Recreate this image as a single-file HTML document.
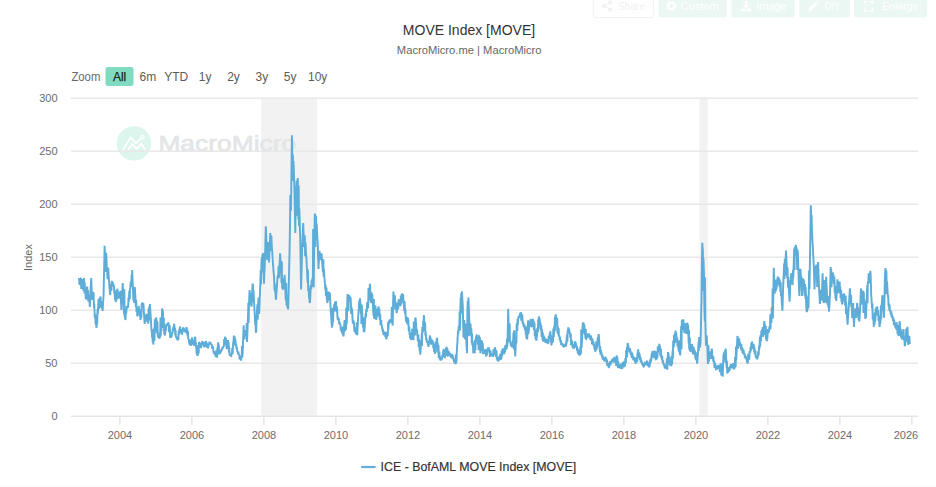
<!DOCTYPE html>
<html lang="en">
<head>
<meta charset="utf-8">
<title>MOVE Index [MOVE]</title>
<style>
html,body{margin:0;padding:0;background:#fff;}
body{width:936px;height:487px;overflow:hidden;font-family:'Liberation Sans', Arial, Helvetica, sans-serif;}
</style>
</head>
<body>
<svg width="936" height="487" viewBox="0 0 936 487" style="display:block;font-family:'Liberation Sans', Arial, Helvetica, sans-serif">
<rect width="936" height="487" fill="#ffffff"/>
<rect x="0" y="485.6" width="936" height="1.4" fill="#fafafa"/>
<g font-size="10.8" fill="#ffffff">
<rect x="593.2" y="-4.5" width="60.5" height="22" rx="3" fill="#ffffff" stroke="#f1f1f1"/>
<g fill="#f1f1f1" stroke="#f1f1f1" stroke-width="1.1"><circle cx="610.2" cy="2.6" r="1.5"/><circle cx="604" cy="6" r="1.5"/><circle cx="610.2" cy="9.6" r="1.5"/><path d="M610.2 2.6 L604 6 L610.2 9.6" fill="none"/></g>
<text x="617.7" y="9.7" fill="#f1f1f1" textLength="27.5" lengthAdjust="spacingAndGlyphs">Share</text>
<rect x="658.5" y="-5" width="68.3" height="22.6" rx="3" fill="#ebf7f3"/>
<g><circle cx="671.2" cy="6" r="3.1" fill="none" stroke="#fff" stroke-width="2.4"/><circle cx="671.2" cy="6" r="4.6" fill="none" stroke="#fff" stroke-width="1.6" stroke-dasharray="1.8 1.81"/></g>
<text x="680.6" y="9.7" textLength="38.1" lengthAdjust="spacingAndGlyphs">Custom</text>
<rect x="731.6" y="-5" width="62.9" height="22.6" rx="3" fill="#ebf7f3"/>
<path d="M744.9 1 h2.4 v4 h2.6 l-3.8 3.9 l-3.8 -3.9 h2.6 z M741 8.6 h3 l2.1 1.7 l2.1 -1.7 h3 v2.6 h-10.2 z" fill="#fff"/>
<text x="756.2" y="9.7" textLength="30.2" lengthAdjust="spacingAndGlyphs">Image</text>
<rect x="799.3" y="-5" width="50.4" height="22.6" rx="3" fill="#ebf7f3"/>
<path d="M808.4 11.2 l0.7 -3 l6.3 -6.3 l2.3 2.3 l-6.3 6.3 z M816.2 1.1 l1 -1 l2.3 2.3 l-1 1 z" fill="#fff"/>
<text x="824.7" y="9.7" textLength="15.3" lengthAdjust="spacingAndGlyphs">DIY</text>
<rect x="854" y="-5" width="73.2" height="22.6" rx="3" fill="#ebf7f3"/>
<path d="M864.4 4.3 v-2.9 h2.9 M869.7 1.4 h2.9 v2.9 M872.6 7.8 v2.9 h-2.9 M867.3 10.7 h-2.9 v-2.9" fill="none" stroke="#fff" stroke-width="1.5"/>
<text x="882" y="9.7" textLength="36.5" lengthAdjust="spacingAndGlyphs">Enlarge</text>
</g>
<rect x="261.2" y="98.15" width="56.0" height="318.0" fill="#f2f2f2"/>
<rect x="699.4" y="98.15" width="8.300000000000068" height="318.0" fill="#f2f2f2"/>
<g>
<circle cx="133.9" cy="143.4" r="17.2" fill="#dcf5ed"/>
<path d="M122.9 149.8 L130.9 137.5 L135.6 143.2 L141 138.6" fill="none" stroke="#fff" stroke-width="1.8" stroke-linejoin="miter"/>
<path d="M128.1 149.8 L132.1 144.1 L137 148.8 L141.3 143.6 L145.1 149.8" fill="none" stroke="#fff" stroke-width="1.8" stroke-linejoin="miter"/>
<circle cx="142.4" cy="137.2" r="1.7" fill="#dcf5ed" stroke="#fff" stroke-width="1.3"/>
<text x="158.4" y="150.9" font-size="22" fill="#e3e5e7" stroke="#e3e5e7" stroke-width="0.7" stroke-linejoin="round" textLength="137.8" lengthAdjust="spacingAndGlyphs">MacroMicro</text>
</g>
<line x1="71.0" x2="918.2" y1="363.15" y2="363.15" stroke="#e8e8e8" stroke-width="1.5"/>
<line x1="71.0" x2="918.2" y1="310.15" y2="310.15" stroke="#e8e8e8" stroke-width="1.5"/>
<line x1="71.0" x2="918.2" y1="257.15" y2="257.15" stroke="#e8e8e8" stroke-width="1.5"/>
<line x1="71.0" x2="918.2" y1="204.15" y2="204.15" stroke="#e8e8e8" stroke-width="1.5"/>
<line x1="71.0" x2="918.2" y1="151.15" y2="151.15" stroke="#e8e8e8" stroke-width="1.5"/>
<line x1="71.0" x2="918.2" y1="98.15" y2="98.15" stroke="#e8e8e8" stroke-width="1.5"/>
<line x1="71.0" x2="918.2" y1="416.15" y2="416.15" stroke="#e5e5e5" stroke-width="1.5"/>
<line x1="119.9" x2="119.9" y1="416.15" y2="424.65" stroke="#e7e7e7" stroke-width="1.5"/>
<line x1="191.9" x2="191.9" y1="416.15" y2="424.65" stroke="#e7e7e7" stroke-width="1.5"/>
<line x1="263.9" x2="263.9" y1="416.15" y2="424.65" stroke="#e7e7e7" stroke-width="1.5"/>
<line x1="335.9" x2="335.9" y1="416.15" y2="424.65" stroke="#e7e7e7" stroke-width="1.5"/>
<line x1="407.9" x2="407.9" y1="416.15" y2="424.65" stroke="#e7e7e7" stroke-width="1.5"/>
<line x1="479.9" x2="479.9" y1="416.15" y2="424.65" stroke="#e7e7e7" stroke-width="1.5"/>
<line x1="551.9" x2="551.9" y1="416.15" y2="424.65" stroke="#e7e7e7" stroke-width="1.5"/>
<line x1="623.9" x2="623.9" y1="416.15" y2="424.65" stroke="#e7e7e7" stroke-width="1.5"/>
<line x1="695.9" x2="695.9" y1="416.15" y2="424.65" stroke="#e7e7e7" stroke-width="1.5"/>
<line x1="767.9" x2="767.9" y1="416.15" y2="424.65" stroke="#e7e7e7" stroke-width="1.5"/>
<line x1="839.9" x2="839.9" y1="416.15" y2="424.65" stroke="#e7e7e7" stroke-width="1.5"/>
<line x1="911.9" x2="911.9" y1="416.15" y2="424.65" stroke="#e7e7e7" stroke-width="1.5"/>
<path d="M78.9 278.0 L79.2 279.8 L79.4 284.0 L79.7 284.6 L80.0 279.5 L80.2 282.5 L80.5 278.2 L80.8 278.0 L81.0 283.9 L81.3 289.0 L81.6 284.9 L81.9 287.9 L82.2 281.9 L82.5 285.5 L82.8 279.0 L83.0 284.7 L83.3 290.7 L83.6 286.6 L83.8 281.8 L84.1 278.0 L84.4 293.2 L84.7 282.6 L85.0 291.2 L85.3 290.7 L85.5 294.1 L85.8 298.5 L86.1 299.1 L86.4 290.0 L86.7 295.2 L87.0 287.3 L87.3 286.8 L87.5 293.5 L87.8 300.0 L88.1 290.4 L88.4 301.7 L88.6 294.7 L88.9 299.9 L89.2 296.5 L89.5 301.4 L89.8 307.0 L90.1 301.9 L90.4 295.2 L90.6 290.1 L90.9 283.3 L91.2 278.0 L91.5 285.2 L91.7 291.2 L92.0 298.5 L92.3 299.9 L92.6 291.9 L92.9 299.2 L93.2 292.6 L93.5 292.6 L93.8 300.7 L94.0 308.0 L94.3 304.1 L94.7 316.5 L95.0 318.0 L95.3 314.3 L95.6 324.1 L96.0 319.9 L96.3 327.0 L96.6 327.7 L96.9 316.3 L97.2 324.6 L97.5 309.2 L97.8 314.0 L98.1 308.4 L98.4 301.4 L98.7 299.1 L99.0 308.9 L99.3 308.0 L99.6 298.1 L100.0 302.4 L100.3 296.5 L100.6 297.5 L101.0 307.3 L101.3 302.0 L101.6 302.0 L101.9 308.7 L102.3 305.6 L102.6 311.0 L102.9 306.1 L103.3 299.4 L103.6 294.6 L103.9 278.8 L104.3 261.4 L104.6 245.8 L104.9 252.5 L105.3 258.0 L105.6 265.0 L105.9 272.0 L106.2 252.8 L106.5 259.5 L106.8 266.4 L107.2 271.8 L107.5 279.0 L107.8 278.5 L108.2 267.5 L108.5 273.0 L108.8 277.9 L109.1 281.5 L109.4 286.6 L109.7 289.7 L110.0 294.6 L110.3 294.2 L110.6 284.0 L110.9 290.9 L111.1 284.3 L111.4 290.7 L111.7 282.5 L112.0 281.0 L112.3 284.2 L112.6 282.1 L112.9 284.4 L113.1 283.5 L113.4 286.4 L113.7 284.6 L114.0 286.8 L114.3 293.7 L114.6 289.7 L115.0 299.9 L115.3 294.4 L115.6 300.7 L115.9 302.0 L116.2 293.7 L116.5 300.6 L116.7 290.3 L117.0 299.0 L117.3 288.7 L117.6 289.9 L117.9 295.3 L118.2 292.1 L118.5 298.0 L118.8 298.5 L119.1 292.1 L119.4 296.3 L119.8 292.9 L120.1 298.3 L120.4 290.7 L120.7 296.9 L121.1 304.0 L121.4 310.0 L121.7 302.7 L122.1 296.8 L122.4 289.6 L122.7 283.0 L123.0 290.4 L123.4 296.6 L123.7 304.0 L124.0 314.1 L124.3 289.3 L124.7 317.5 L125.0 310.3 L125.3 320.0 L125.6 318.7 L125.9 310.4 L126.3 313.1 L126.6 308.0 L126.9 306.2 L127.2 308.3 L127.6 305.7 L127.9 307.7 L128.2 306.0 L128.5 297.2 L128.8 301.7 L129.2 292.5 L129.5 290.7 L129.8 299.3 L130.1 288.6 L130.3 288.9 L130.6 281.9 L130.9 286.8 L131.2 285.0 L131.6 275.0 L131.9 280.3 L132.2 270.0 L132.5 277.5 L132.8 285.5 L133.1 292.8 L133.4 300.6 L133.7 299.0 L134.0 289.7 L134.2 303.0 L134.5 288.2 L134.8 287.0 L135.1 292.2 L135.4 296.7 L135.6 302.3 L135.9 307.0 L136.2 299.7 L136.5 312.1 L136.9 308.6 L137.2 315.7 L137.5 316.0 L137.8 309.9 L138.2 313.5 L138.5 307.9 L138.8 306.0 L139.1 311.7 L139.4 309.3 L139.8 316.4 L140.1 309.4 L140.4 320.0 L140.7 317.6 L141.0 311.0 L141.4 317.7 L141.7 304.6 L142.0 303.0 L142.3 303.3 L142.7 302.7 L143.0 307.5 L143.3 303.0 L143.6 306.7 L143.9 312.2 L144.1 314.9 L144.4 320.4 L144.7 324.0 L145.0 315.4 L145.3 322.1 L145.6 317.5 L145.9 321.8 L146.2 314.7 L146.5 314.0 L146.8 320.5 L147.1 315.8 L147.4 320.0 L147.7 315.9 L148.0 323.0 L148.3 323.0 L148.6 308.4 L148.9 320.6 L149.3 306.3 L149.6 319.2 L149.9 304.0 L150.2 309.1 L150.6 315.2 L150.9 319.8 L151.2 325.5 L151.5 331.8 L151.8 329.8 L152.1 337.7 L152.4 332.5 L152.7 342.5 L153.0 329.2 L153.3 344.6 L153.6 339.4 L153.9 332.6 L154.2 327.7 L154.5 340.8 L154.8 319.2 L155.1 332.2 L155.3 320.4 L155.6 322.9 L155.9 318.4 L156.2 317.5 L156.5 325.8 L156.8 320.6 L157.2 333.7 L157.5 321.8 L157.8 335.6 L158.1 337.0 L158.4 335.3 L158.7 338.1 L159.0 336.7 L159.3 338.3 L159.6 338.0 L159.9 332.5 L160.2 337.2 L160.5 317.6 L160.8 335.6 L161.1 324.9 L161.4 331.0 L161.8 320.4 L162.1 308.5 L162.4 310.0 L162.6 325.4 L162.9 310.2 L163.2 318.7 L163.5 328.0 L163.8 318.0 L164.2 334.0 L164.5 323.6 L164.8 335.6 L165.1 334.2 L165.4 329.9 L165.8 331.3 L166.1 326.0 L166.4 325.5 L166.7 325.8 L167.0 324.2 L167.3 325.7 L167.7 322.7 L168.0 324.8 L168.3 322.7 L168.6 323.0 L168.9 332.1 L169.2 326.6 L169.5 332.1 L169.8 325.2 L170.1 337.0 L170.4 338.0 L170.7 334.5 L171.0 337.7 L171.3 333.9 L171.6 337.1 L171.9 332.4 L172.2 334.5 L172.5 332.0 L172.8 328.3 L173.1 330.3 L173.4 326.6 L173.7 329.6 L174.0 324.7 L174.3 324.0 L174.6 331.1 L174.9 327.7 L175.3 335.4 L175.6 330.0 L175.9 336.7 L176.2 337.5 L176.5 336.6 L176.8 339.5 L177.2 337.7 L177.5 340.3 L177.8 339.2 L178.1 340.0 L178.4 338.9 L178.7 330.9 L179.0 334.7 L179.3 329.0 L179.6 332.3 L179.9 326.6 L180.2 327.5 L180.5 332.8 L180.8 329.4 L181.1 333.1 L181.4 329.0 L181.7 334.5 L182.0 334.1 L182.3 330.2 L182.7 332.5 L183.0 328.1 L183.3 327.7 L183.6 328.5 L183.9 328.3 L184.2 330.8 L184.4 329.1 L184.7 331.1 L185.0 328.8 L185.3 332.3 L185.6 332.0 L185.9 329.2 L186.1 331.3 L186.4 327.4 L186.7 327.7 L187.0 334.0 L187.3 329.3 L187.6 336.2 L187.9 331.4 L188.2 338.3 L188.5 339.0 L188.8 339.0 L189.1 343.4 L189.4 340.3 L189.7 345.0 L189.9 340.6 L190.2 345.5 L190.5 339.5 L190.8 345.8 L191.1 344.9 L191.4 340.0 L191.7 344.7 L192.0 338.1 L192.3 337.8 L192.6 341.2 L192.9 340.1 L193.2 344.0 L193.5 342.3 L193.8 345.7 L194.1 344.2 L194.4 340.1 L194.7 344.4 L195.0 336.7 L195.3 337.6 L195.7 346.5 L196.0 342.7 L196.3 348.0 L196.6 353.7 L196.9 349.6 L197.2 354.5 L197.5 355.9 L197.8 345.2 L198.1 354.7 L198.4 345.9 L198.7 353.4 L199.0 342.3 L199.3 342.4 L199.6 346.1 L199.9 342.9 L200.2 347.4 L200.5 345.6 L200.8 348.0 L201.1 347.5 L201.4 343.2 L201.8 345.6 L202.1 342.0 L202.4 341.2 L202.7 344.1 L203.0 342.0 L203.4 345.0 L203.7 343.3 L204.0 346.8 L204.3 346.7 L204.6 344.1 L204.9 345.1 L205.2 342.0 L205.5 344.5 L205.8 341.2 L206.1 341.9 L206.4 347.1 L206.7 342.3 L207.0 347.5 L207.3 345.4 L207.6 348.0 L207.9 347.7 L208.2 345.2 L208.5 347.1 L208.8 343.5 L209.1 344.6 L209.4 342.3 L209.7 342.0 L210.0 344.4 L210.3 342.0 L210.6 344.3 L210.9 343.4 L211.2 344.9 L211.5 344.6 L211.8 344.5 L212.1 348.8 L212.4 346.7 L212.7 348.8 L213.0 346.4 L213.3 350.2 L213.6 352.6 L213.9 351.0 L214.2 354.1 L214.4 351.3 L214.7 354.7 L215.0 353.1 L215.3 354.7 L215.6 356.5 L215.9 355.0 L216.2 357.2 L216.5 349.7 L216.8 357.3 L217.1 357.0 L217.4 347.5 L217.6 355.2 L217.9 344.6 L218.2 342.3 L218.5 348.0 L218.8 344.5 L219.0 350.6 L219.3 348.9 L219.6 353.6 L219.9 353.7 L220.2 352.1 L220.5 352.7 L220.7 350.9 L221.0 352.1 L221.3 349.9 L221.6 350.2 L221.9 350.3 L222.2 347.4 L222.5 349.1 L222.8 347.0 L223.0 348.0 L223.3 346.2 L223.6 346.6 L223.9 345.7 L224.2 339.1 L224.6 343.6 L224.9 338.2 L225.2 336.7 L225.5 343.9 L225.8 337.9 L226.0 345.4 L226.3 339.7 L226.6 349.0 L226.9 348.1 L227.2 342.7 L227.4 347.4 L227.7 341.0 L228.0 340.0 L228.3 348.2 L228.6 342.1 L228.9 352.5 L229.2 346.5 L229.5 353.6 L229.8 355.6 L230.1 353.3 L230.4 356.0 L230.7 354.6 L231.0 356.6 L231.3 356.3 L231.6 353.5 L231.9 354.2 L232.3 347.9 L232.6 354.2 L232.9 349.0 L233.2 342.0 L233.4 344.3 L233.7 338.0 L234.0 335.5 L234.3 345.4 L234.6 336.3 L235.0 341.2 L235.3 338.9 L235.6 342.3 L235.9 346.4 L236.2 344.2 L236.5 348.9 L236.8 346.5 L237.1 350.7 L237.4 351.3 L237.7 351.3 L238.0 354.2 L238.4 351.7 L238.7 355.0 L239.0 354.7 L239.3 355.0 L239.6 359.5 L239.9 356.4 L240.2 359.2 L240.5 358.4 L240.8 360.3 L241.1 360.0 L241.4 355.9 L241.7 358.6 L242.0 346.0 L242.3 357.5 L242.6 353.6 L242.9 346.4 L243.1 339.7 L243.4 332.1 L243.7 325.2 L244.0 339.4 L244.3 330.0 L244.6 334.5 L244.9 334.2 L245.2 330.1 L245.6 335.6 L245.9 331.7 L246.2 332.8 L246.4 339.4 L246.7 322.9 L247.0 341.9 L247.3 335.5 L247.6 327.3 L247.8 321.7 L248.1 314.0 L248.4 302.6 L248.6 322.9 L248.9 308.6 L249.2 298.5 L249.6 290.0 L249.9 299.6 L250.2 292.7 L250.5 301.2 L250.8 305.3 L251.2 300.1 L251.5 306.8 L251.8 301.7 L252.1 294.5 L252.3 290.0 L252.6 283.7 L252.9 284.5 L253.2 302.1 L253.5 290.0 L253.8 296.0 L254.1 302.9 L254.4 308.6 L254.7 313.7 L255.0 320.4 L255.3 325.2 L255.6 314.6 L255.8 331.8 L256.1 332.6 L256.4 324.7 L256.7 318.6 L257.0 310.5 L257.4 304.4 L257.7 319.7 L258.0 312.9 L258.2 304.6 L258.5 297.5 L258.9 305.9 L259.2 314.0 L259.5 306.5 L259.7 299.7 L260.0 292.0 L260.4 280.7 L260.7 269.8 L261.0 284.8 L261.4 266.0 L261.7 257.9 L261.9 266.1 L262.2 258.7 L262.5 254.6 L262.8 272.4 L263.1 253.0 L263.4 262.8 L263.7 273.6 L264.0 283.7 L264.3 274.5 L264.7 267.2 L265.0 258.0 L265.3 247.0 L265.5 237.3 L265.8 226.3 L266.1 232.5 L266.4 239.9 L266.6 245.9 L266.9 253.5 L267.2 260.0 L267.5 253.8 L267.8 248.3 L268.1 242.0 L268.4 248.2 L268.7 255.9 L269.0 262.5 L269.3 254.5 L269.6 248.5 L270.0 239.9 L270.3 233.0 L270.6 247.0 L270.9 235.3 L271.1 250.9 L271.4 236.1 L271.7 244.4 L272.0 249.5 L272.3 252.9 L272.6 258.0 L272.9 262.7 L273.2 266.8 L273.6 271.8 L273.9 275.4 L274.2 280.5 L274.5 289.8 L274.8 283.4 L275.1 292.1 L275.4 290.3 L275.7 297.7 L276.0 299.7 L276.3 294.4 L276.6 290.8 L277.0 284.9 L277.3 281.0 L277.6 276.0 L277.9 275.7 L278.2 278.0 L278.6 266.1 L278.9 278.3 L279.2 272.3 L279.5 265.1 L279.8 259.9 L280.1 253.4 L280.4 257.7 L280.6 264.4 L280.9 268.6 L281.2 273.8 L281.5 283.0 L281.8 261.6 L282.2 288.2 L282.5 280.5 L282.8 289.6 L283.1 288.0 L283.4 281.5 L283.7 287.9 L284.0 278.2 L284.3 289.0 L284.6 274.9 L284.9 280.6 L285.1 287.2 L285.4 291.9 L285.7 298.6 L286.0 300.6 L286.2 282.9 L286.5 305.4 L286.8 303.0 L287.1 300.1 L287.4 307.5 L287.6 294.6 L287.9 309.0 L288.2 308.8 L288.5 295.9 L288.8 284.1 L289.1 271.5 L289.5 254.4 L289.8 237.6 L290.1 216.7 L290.3 195.0 L290.6 202.5 L291.0 210.8 L291.3 185.9 L291.6 160.2 L291.9 135.2 L292.2 152.9 L292.6 170.0 L292.9 154.6 L293.2 180.9 L293.5 161.0 L293.8 169.9 L294.1 179.6 L294.4 188.0 L294.7 202.3 L295.0 218.2 L295.3 233.0 L295.6 208.8 L296.0 186.0 L296.3 216.1 L296.6 180.8 L296.9 190.5 L297.2 198.8 L297.5 180.4 L297.8 178.0 L298.1 199.3 L298.4 219.8 L298.7 185.6 L299.0 226.3 L299.3 208.5 L299.6 217.8 L299.9 228.3 L300.2 237.6 L300.5 254.6 L300.8 272.4 L301.1 289.6 L301.4 277.4 L301.7 266.2 L302.0 253.4 L302.3 245.5 L302.6 239.0 L302.9 230.3 L303.2 223.0 L303.5 231.2 L303.9 238.3 L304.2 246.6 L304.5 246.0 L304.8 235.3 L305.1 256.3 L305.4 242.0 L305.7 245.8 L305.9 251.8 L306.2 255.1 L306.5 260.2 L306.8 266.6 L307.1 270.7 L307.3 277.6 L307.6 282.8 L307.9 269.4 L308.2 290.9 L308.5 285.2 L308.8 291.8 L309.1 298.6 L309.4 287.9 L309.6 301.8 L309.9 303.0 L310.2 298.2 L310.4 294.1 L310.7 288.8 L311.0 285.0 L311.3 289.0 L311.6 280.4 L312.0 283.5 L312.3 278.9 L312.6 278.3 L312.9 284.9 L313.1 228.9 L313.4 285.9 L313.7 287.3 L314.0 261.9 L314.3 237.6 L314.6 226.2 L314.8 214.2 L315.1 214.0 L315.4 247.1 L315.7 216.0 L316.0 217.6 L316.3 228.7 L316.7 223.6 L317.0 231.0 L317.3 236.2 L317.5 239.5 L317.8 244.4 L318.1 257.0 L318.5 269.0 L318.8 262.3 L319.1 257.8 L319.4 251.0 L319.7 252.2 L319.9 259.3 L320.2 255.6 L320.5 260.0 L320.8 258.8 L321.1 254.4 L321.3 259.2 L321.6 253.4 L321.9 257.7 L322.2 262.7 L322.5 266.5 L322.8 271.5 L323.1 271.8 L323.4 259.3 L323.6 276.5 L323.9 269.0 L324.2 272.6 L324.4 277.5 L324.7 280.6 L325.0 285.0 L325.3 290.0 L325.6 284.6 L325.9 295.9 L326.2 294.0 L326.5 287.5 L326.8 299.7 L327.0 296.2 L327.3 303.0 L327.6 301.4 L328.0 292.7 L328.3 291.6 L328.6 295.7 L328.9 291.9 L329.3 300.4 L329.6 292.7 L329.9 294.0 L330.2 299.4 L330.4 303.2 L330.7 309.7 L331.0 314.0 L331.3 317.9 L331.6 323.3 L331.9 327.8 L332.2 322.6 L332.5 325.7 L332.7 308.1 L333.0 322.1 L333.3 314.0 L333.6 307.4 L333.9 310.0 L334.1 305.4 L334.4 304.0 L334.7 311.5 L335.0 301.8 L335.4 304.0 L335.7 301.5 L336.0 301.8 L336.3 308.8 L336.6 306.1 L336.8 312.3 L337.1 307.5 L337.4 316.5 L337.7 319.6 L338.0 316.9 L338.3 320.4 L338.6 318.0 L338.9 321.0 L339.2 324.3 L339.5 321.9 L339.9 324.7 L340.2 323.8 L340.5 325.5 L340.8 330.4 L341.1 327.0 L341.4 331.5 L341.7 327.4 L342.0 333.2 L342.3 332.3 L342.6 332.8 L342.9 335.1 L343.2 326.4 L343.5 336.4 L343.8 332.9 L344.1 328.0 L344.3 324.2 L344.6 320.0 L344.9 321.2 L345.1 331.3 L345.4 324.3 L345.7 330.0 L346.0 328.5 L346.3 307.8 L346.6 324.6 L346.9 321.0 L347.2 307.2 L347.5 294.0 L347.8 307.4 L348.1 294.5 L348.4 311.2 L348.7 298.4 L349.0 295.0 L349.3 299.8 L349.6 296.0 L349.9 297.1 L350.2 300.7 L350.6 297.2 L350.9 303.0 L351.2 314.0 L351.5 306.9 L351.9 313.8 L352.2 309.3 L352.5 318.8 L352.8 323.4 L353.1 320.3 L353.5 323.8 L353.8 320.9 L354.1 325.5 L354.4 331.8 L354.7 327.2 L355.0 330.3 L355.3 328.6 L355.6 333.2 L355.9 333.4 L356.2 333.1 L356.5 334.5 L356.7 322.2 L357.0 334.9 L357.3 334.6 L357.6 328.1 L357.9 322.8 L358.2 316.5 L358.5 311.8 L358.8 308.9 L359.0 304.0 L359.3 300.7 L359.6 305.3 L360.0 298.4 L360.3 303.3 L360.6 309.4 L360.9 314.0 L361.2 307.4 L361.4 324.1 L361.7 304.6 L362.0 309.7 L362.3 314.5 L362.6 318.5 L362.8 323.7 L363.1 327.8 L363.4 317.4 L363.7 331.8 L364.0 327.0 L364.3 332.3 L364.6 328.7 L364.9 324.2 L365.1 321.2 L365.4 316.5 L365.7 313.3 L365.9 317.5 L366.2 309.9 L366.5 309.7 L366.8 312.0 L367.1 302.5 L367.3 308.8 L367.6 305.2 L367.9 301.9 L368.2 308.3 L368.5 288.1 L368.8 300.7 L369.1 296.8 L369.4 292.0 L369.6 288.7 L369.9 283.7 L370.2 287.9 L370.4 293.5 L370.7 297.6 L371.0 303.0 L371.3 301.7 L371.6 292.2 L371.9 302.5 L372.2 294.0 L372.5 298.3 L372.8 303.1 L373.0 307.2 L373.3 312.0 L373.6 315.8 L373.9 298.9 L374.1 317.6 L374.4 318.8 L374.7 313.5 L375.0 310.0 L375.3 305.2 L375.6 309.8 L375.9 315.7 L376.2 320.0 L376.5 309.1 L376.8 317.8 L377.1 312.0 L377.4 312.0 L377.7 315.1 L377.9 307.9 L378.2 316.1 L378.5 306.3 L378.8 308.4 L379.1 316.1 L379.3 308.8 L379.6 318.8 L379.9 319.8 L380.2 313.8 L380.5 325.5 L380.8 321.0 L381.1 320.1 L381.5 325.2 L381.8 325.0 L382.1 327.8 L382.4 330.5 L382.7 328.5 L382.9 332.8 L383.2 329.7 L383.5 334.6 L383.8 334.9 L384.1 332.7 L384.5 333.6 L384.8 332.3 L385.1 332.2 L385.4 337.3 L385.8 334.9 L386.1 338.8 L386.4 339.0 L386.7 335.4 L386.9 336.9 L387.2 331.8 L387.5 332.3 L387.8 335.9 L388.1 322.0 L388.4 329.5 L388.7 323.3 L389.0 320.6 L389.2 323.9 L389.5 320.2 L389.8 320.0 L390.1 321.9 L390.4 319.3 L390.6 322.3 L390.9 322.0 L391.2 320.2 L391.5 322.2 L391.8 306.8 L392.1 318.8 L392.4 323.8 L392.7 325.5 L393.0 307.8 L393.4 291.6 L393.7 296.4 L394.0 300.0 L394.3 305.2 L394.6 305.5 L394.9 295.2 L395.1 309.5 L395.4 301.8 L395.7 303.0 L396.0 309.6 L396.3 306.9 L396.6 313.0 L396.9 312.0 L397.1 302.7 L397.4 309.0 L397.7 306.0 L398.0 302.8 L398.2 309.4 L398.5 300.4 L398.8 299.4 L399.1 302.0 L399.4 301.5 L399.6 304.8 L399.9 302.6 L400.2 306.0 L400.5 305.5 L400.8 295.7 L401.2 304.5 L401.5 295.3 L401.8 293.7 L402.1 294.5 L402.4 293.8 L402.6 300.3 L402.9 294.9 L403.2 295.2 L403.4 303.0 L403.7 300.4 L404.0 306.0 L404.3 311.0 L404.6 301.2 L405.0 313.6 L405.3 308.5 L405.6 315.0 L405.9 321.2 L406.2 316.6 L406.5 321.5 L406.8 323.0 L407.1 317.0 L407.4 324.3 L407.6 317.9 L407.9 317.5 L408.2 325.2 L408.4 319.9 L408.7 330.1 L409.0 331.0 L409.3 326.9 L409.6 335.3 L409.8 332.9 L410.1 338.5 L410.4 335.5 L410.7 332.5 L411.0 339.2 L411.3 340.0 L411.6 333.5 L411.9 338.9 L412.1 330.2 L412.4 328.8 L412.7 334.4 L412.9 330.6 L413.2 338.9 L413.5 340.0 L413.8 321.5 L414.1 335.9 L414.4 324.8 L414.7 328.8 L415.0 335.4 L415.3 318.6 L415.6 317.5 L415.9 322.2 L416.1 325.3 L416.4 329.7 L416.7 333.3 L417.0 329.7 L417.3 335.9 L417.5 333.9 L417.8 341.1 L418.1 337.8 L418.4 334.8 L418.8 346.9 L419.1 339.2 L419.4 344.6 L419.7 351.1 L420.0 347.3 L420.3 354.7 L420.6 350.4 L420.9 344.1 L421.2 340.0 L421.5 342.5 L421.8 333.4 L422.0 346.1 L422.3 326.9 L422.6 331.0 L422.9 332.5 L423.2 320.7 L423.6 322.9 L423.9 315.0 L424.2 320.1 L424.5 326.2 L424.8 331.0 L425.1 322.2 L425.4 335.5 L425.7 331.7 L426.0 337.8 L426.3 340.3 L426.6 338.7 L427.0 342.9 L427.3 342.3 L427.6 341.2 L427.9 345.3 L428.1 343.4 L428.4 346.8 L428.7 345.7 L429.0 340.7 L429.4 341.8 L429.7 336.8 L430.0 335.5 L430.3 341.4 L430.6 337.4 L430.9 342.9 L431.2 344.6 L431.5 341.1 L431.9 343.7 L432.2 340.3 L432.5 340.0 L432.8 344.5 L433.1 342.2 L433.3 348.2 L433.6 344.4 L433.9 349.0 L434.2 352.0 L434.5 350.3 L434.9 353.3 L435.2 353.6 L435.5 341.4 L435.8 352.3 L436.2 341.5 L436.5 345.0 L436.8 337.8 L437.1 338.6 L437.4 346.3 L437.6 343.2 L437.9 346.8 L438.2 353.2 L438.5 344.9 L438.8 358.0 L439.1 354.7 L439.4 351.8 L439.7 359.5 L440.0 356.5 L440.3 359.8 L440.6 360.4 L440.9 359.2 L441.2 360.3 L441.6 357.6 L441.9 359.8 L442.2 355.4 L442.5 357.0 L442.8 356.1 L443.1 351.3 L443.3 354.5 L443.6 349.0 L443.9 350.6 L444.1 355.2 L444.4 352.3 L444.7 358.0 L445.0 357.5 L445.3 352.3 L445.6 355.2 L445.9 348.0 L446.2 355.9 L446.5 346.8 L446.8 348.4 L447.1 352.6 L447.4 348.4 L447.7 355.9 L448.0 356.2 L448.3 350.8 L448.6 354.3 L448.9 352.2 L449.2 352.5 L449.5 355.0 L449.8 352.9 L450.2 356.3 L450.5 353.6 L450.8 357.0 L451.1 357.1 L451.4 354.8 L451.6 356.2 L451.9 354.4 L452.2 354.7 L452.5 359.1 L452.8 355.4 L453.2 358.8 L453.5 357.8 L453.8 360.4 L454.1 362.3 L454.4 360.8 L454.7 363.2 L455.0 362.4 L455.3 363.8 L455.6 363.6 L455.9 354.3 L456.2 363.1 L456.5 360.4 L456.9 349.8 L457.2 344.9 L457.5 340.7 L457.8 334.8 L458.1 330.6 L458.4 333.7 L458.7 326.3 L459.0 326.2 L459.3 328.5 L459.6 311.4 L459.9 330.6 L460.2 320.1 L460.4 308.0 L460.7 297.5 L461.0 309.2 L461.3 293.0 L461.6 313.6 L461.9 291.3 L462.2 295.9 L462.5 301.8 L462.8 306.2 L463.1 321.5 L463.5 337.6 L463.9 329.3 L464.2 320.1 L464.5 329.6 L464.9 339.3 L465.2 332.0 L465.6 323.6 L466.0 331.9 L466.3 341.1 L466.6 347.5 L467.0 353.3 L467.4 311.4 L467.7 300.7 L468.1 336.3 L468.4 297.5 L468.8 305.8 L469.1 314.9 L469.5 325.6 L469.8 335.8 L470.1 329.3 L470.5 323.6 L470.8 330.4 L471.2 327.8 L471.5 332.4 L471.8 343.2 L472.1 333.4 L472.3 345.6 L472.6 341.1 L473.0 346.7 L473.3 353.3 L473.6 351.5 L473.9 343.2 L474.2 346.3 L474.4 350.7 L474.7 353.3 L475.0 339.9 L475.4 350.2 L475.7 339.3 L476.0 336.6 L476.2 340.9 L476.5 335.1 L476.8 335.0 L477.1 340.9 L477.5 336.5 L477.8 344.6 L478.1 343.0 L478.4 336.5 L478.6 350.2 L478.9 335.8 L479.2 335.5 L479.6 348.2 L479.9 337.6 L480.1 345.2 L480.4 353.3 L480.7 349.7 L481.0 344.0 L481.3 340.0 L481.6 351.2 L481.9 340.8 L482.2 345.0 L482.5 349.3 L482.8 343.1 L483.1 353.5 L483.4 354.0 L483.7 351.2 L484.0 353.0 L484.3 350.1 L484.6 352.2 L484.9 349.6 L485.2 349.9 L485.5 354.2 L485.8 351.2 L486.1 356.4 L486.4 355.2 L486.6 351.3 L486.9 355.1 L487.2 349.6 L487.5 348.5 L487.8 351.4 L488.2 347.3 L488.5 351.1 L488.8 347.3 L489.1 349.1 L489.4 353.3 L489.6 352.1 L489.9 356.4 L490.2 356.7 L490.5 350.3 L490.7 355.9 L491.0 353.1 L491.3 353.0 L491.6 355.5 L491.9 353.9 L492.3 356.0 L492.6 354.1 L492.9 356.4 L493.2 356.3 L493.4 349.3 L493.7 355.2 L494.0 353.0 L494.3 349.2 L494.6 354.7 L494.8 348.2 L495.1 347.3 L495.4 355.0 L495.6 349.2 L495.9 356.6 L496.2 356.4 L496.5 350.5 L496.8 359.1 L497.1 356.9 L497.4 359.7 L497.7 361.0 L497.9 358.7 L498.2 361.2 L498.5 360.9 L498.8 358.2 L499.1 359.3 L499.3 356.3 L499.6 356.4 L499.9 358.1 L500.2 353.7 L500.5 359.5 L500.8 359.7 L501.1 354.3 L501.4 358.9 L501.6 350.8 L501.9 351.8 L502.2 356.2 L502.4 349.4 L502.7 350.2 L503.0 348.4 L503.3 349.4 L503.6 352.0 L503.9 348.3 L504.2 354.0 L504.5 352.8 L504.8 347.2 L505.0 352.2 L505.3 345.0 L505.6 345.6 L505.9 349.6 L506.1 345.1 L506.4 349.6 L506.7 348.3 L506.9 338.7 L507.2 346.6 L507.5 342.8 L507.9 325.7 L508.2 308.9 L508.5 319.8 L508.8 329.7 L509.1 340.5 L509.4 342.0 L509.7 323.4 L509.9 342.5 L510.2 341.3 L510.5 342.8 L510.8 345.4 L511.1 344.1 L511.5 346.9 L511.8 344.4 L512.1 347.3 L512.4 346.1 L512.7 340.4 L512.9 345.2 L513.2 340.5 L513.5 332.5 L513.8 349.5 L514.0 331.8 L514.3 330.4 L514.6 339.4 L514.9 347.6 L515.2 356.4 L515.5 350.9 L515.8 343.8 L516.1 338.3 L516.4 343.5 L516.7 323.3 L517.0 327.0 L517.3 331.1 L517.6 319.1 L517.9 324.6 L518.2 318.0 L518.5 316.8 L518.9 318.2 L519.2 315.4 L519.5 315.7 L519.8 316.5 L520.1 313.2 L520.4 314.4 L520.7 312.3 L521.0 313.0 L521.2 320.6 L521.5 315.0 L521.8 316.8 L522.1 321.2 L522.3 314.2 L522.6 323.0 L522.9 323.6 L523.2 321.8 L523.5 326.6 L523.7 324.3 L524.0 325.8 L524.3 327.5 L524.6 324.6 L524.9 330.1 L525.2 328.1 L525.5 328.4 L525.8 334.8 L526.0 332.7 L526.3 336.0 L526.6 338.8 L526.9 326.2 L527.2 339.4 L527.5 333.6 L527.8 326.5 L528.1 320.2 L528.4 334.2 L528.7 321.2 L528.9 331.5 L529.2 321.4 L529.5 327.0 L529.8 325.9 L530.0 321.7 L530.3 322.6 L530.6 319.0 L530.9 320.0 L531.2 323.3 L531.4 321.9 L531.7 326.6 L532.0 327.0 L532.3 321.3 L532.5 325.8 L532.8 319.7 L533.1 319.0 L533.4 323.2 L533.7 320.9 L533.9 330.1 L534.2 327.0 L534.5 322.4 L534.8 336.1 L535.0 331.3 L535.3 336.0 L535.6 339.1 L535.9 329.5 L536.2 340.0 L536.5 340.5 L536.8 333.3 L537.0 336.9 L537.3 327.7 L537.6 331.5 L537.9 332.2 L538.2 319.4 L538.4 328.9 L538.7 316.8 L539.0 317.0 L539.3 324.3 L539.6 318.0 L539.9 322.5 L540.2 325.6 L540.5 322.4 L540.7 330.6 L541.0 328.1 L541.3 325.3 L541.6 337.1 L541.9 329.3 L542.2 332.0 L542.5 340.0 L542.8 332.6 L543.1 340.8 L543.4 341.5 L543.7 335.2 L544.0 341.6 L544.2 337.3 L544.5 337.0 L544.8 341.1 L545.0 338.3 L545.3 341.9 L545.6 342.6 L545.9 340.2 L546.2 342.6 L546.5 339.6 L546.8 339.2 L547.1 342.9 L547.3 340.5 L547.6 343.1 L547.9 343.8 L548.2 341.2 L548.5 343.1 L548.7 336.1 L549.0 338.0 L549.3 338.5 L549.6 333.9 L549.9 335.7 L550.2 331.3 L550.5 332.6 L550.8 342.0 L551.0 335.2 L551.3 344.9 L551.6 344.7 L551.8 339.5 L552.1 343.0 L552.4 339.2 L552.7 336.0 L553.0 342.3 L553.3 328.6 L553.6 333.6 L553.9 337.2 L554.2 326.0 L554.4 331.9 L554.7 325.7 L555.0 316.5 L555.2 330.4 L555.5 316.5 L555.8 314.4 L556.1 319.8 L556.3 318.1 L556.6 324.0 L556.9 324.5 L557.2 317.8 L557.5 333.3 L557.8 326.6 L558.1 331.3 L558.4 334.8 L558.7 328.3 L558.9 336.8 L559.2 335.8 L559.5 335.5 L559.8 339.9 L560.0 337.0 L560.3 340.4 L560.6 342.6 L560.9 340.0 L561.2 344.6 L561.5 344.9 L561.8 343.7 L562.0 345.3 L562.3 343.5 L562.6 343.8 L562.9 346.1 L563.2 344.6 L563.4 346.9 L563.7 347.0 L564.0 344.4 L564.3 346.9 L564.6 344.6 L564.9 344.9 L565.2 346.2 L565.5 343.6 L565.7 346.3 L566.0 346.0 L566.3 340.6 L566.5 344.5 L566.8 334.7 L567.1 337.0 L567.4 341.8 L567.7 330.1 L567.9 332.5 L568.2 328.0 L568.5 327.7 L568.8 331.5 L569.1 328.8 L569.4 331.3 L569.7 334.0 L570.0 332.9 L570.2 337.5 L570.5 337.0 L570.8 333.6 L571.0 345.3 L571.3 339.7 L571.6 341.5 L571.9 344.9 L572.2 340.7 L572.5 347.4 L572.8 347.0 L573.1 345.5 L573.3 348.6 L573.6 345.3 L573.9 348.3 L574.2 347.9 L574.5 343.7 L574.7 347.1 L575.0 341.5 L575.3 341.9 L575.6 345.2 L575.9 342.8 L576.2 346.0 L576.5 347.5 L576.8 345.6 L577.0 350.7 L577.3 348.3 L577.6 348.6 L577.8 353.5 L578.1 349.6 L578.4 352.8 L578.7 354.6 L579.0 350.7 L579.2 355.2 L579.5 355.0 L579.8 353.9 L580.1 355.3 L580.4 346.6 L580.7 354.0 L581.0 352.3 L581.2 329.4 L581.5 348.0 L581.8 343.8 L582.1 338.2 L582.3 333.3 L582.6 326.9 L582.9 322.3 L583.2 333.3 L583.5 322.6 L583.8 332.6 L584.1 324.5 L584.4 325.6 L584.7 334.5 L584.9 328.6 L585.2 335.8 L585.5 338.3 L585.8 329.0 L586.0 339.5 L586.3 339.2 L586.6 336.1 L586.9 337.5 L587.2 334.5 L587.5 333.6 L587.8 337.6 L588.0 333.3 L588.3 336.4 L588.6 333.6 L588.9 334.1 L589.2 336.8 L589.4 334.7 L589.7 338.0 L590.0 338.3 L590.2 336.0 L590.5 339.9 L590.8 335.8 L591.1 336.3 L591.4 341.2 L591.7 339.9 L592.0 343.8 L592.3 343.9 L592.5 338.4 L592.8 344.8 L593.1 341.5 L593.4 342.1 L593.7 346.1 L593.9 343.7 L594.2 346.0 L594.5 349.1 L594.8 345.1 L595.1 350.8 L595.4 351.7 L595.7 348.9 L596.0 350.6 L596.2 341.3 L596.5 348.3 L596.8 349.6 L597.0 341.4 L597.3 346.8 L597.6 339.2 L597.9 337.2 L598.2 343.3 L598.5 334.4 L598.8 334.7 L599.1 339.6 L599.3 342.6 L599.6 347.9 L599.9 351.7 L600.2 346.1 L600.5 354.7 L600.7 350.3 L601.0 350.5 L601.3 353.9 L601.5 352.4 L601.8 356.2 L602.1 357.3 L602.4 354.5 L602.7 359.8 L603.0 357.0 L603.3 358.4 L603.6 359.9 L603.8 358.2 L604.1 361.0 L604.4 360.7 L604.7 359.1 L605.0 360.6 L605.2 357.3 L605.5 357.3 L605.8 360.6 L606.1 357.9 L606.4 362.2 L606.7 361.8 L607.0 359.6 L607.2 365.9 L607.5 362.6 L607.8 364.0 L608.1 365.8 L608.3 363.2 L608.6 367.8 L608.9 367.5 L609.2 363.2 L609.5 366.4 L609.8 361.9 L610.1 361.8 L610.4 365.4 L610.7 360.8 L610.9 363.3 L611.2 363.0 L611.5 361.2 L611.8 362.4 L612.0 360.0 L612.3 359.6 L612.6 361.4 L612.8 358.4 L613.1 362.1 L613.4 361.8 L613.7 358.7 L614.0 360.8 L614.3 357.6 L614.6 357.3 L614.9 360.7 L615.2 357.5 L615.4 362.4 L615.7 363.0 L616.0 357.7 L616.2 365.9 L616.5 356.8 L616.8 355.5 L617.1 364.2 L617.4 357.6 L617.7 366.2 L618.0 368.0 L618.3 361.4 L618.6 367.8 L618.9 365.0 L619.2 364.6 L619.5 366.8 L619.8 365.4 L620.1 368.3 L620.4 368.0 L620.7 364.2 L621.0 367.4 L621.2 364.1 L621.5 363.4 L621.9 367.7 L622.2 369.0 L622.5 364.7 L622.8 367.8 L623.0 363.0 L623.3 362.3 L623.6 366.7 L623.8 361.4 L624.1 366.6 L624.4 366.8 L624.7 362.8 L625.0 366.0 L625.3 358.2 L625.6 360.0 L625.9 363.3 L626.2 350.1 L626.4 357.7 L626.7 351.0 L627.0 347.4 L627.2 357.3 L627.5 344.2 L627.8 343.0 L628.1 346.2 L628.3 345.2 L628.6 349.0 L628.9 349.9 L629.2 348.2 L629.5 352.1 L629.8 348.5 L630.1 348.8 L630.4 353.6 L630.7 350.8 L630.9 354.5 L631.2 355.5 L631.5 352.9 L631.8 358.0 L632.0 353.0 L632.3 353.3 L632.6 357.6 L632.9 355.5 L633.2 359.6 L633.5 360.0 L633.8 356.8 L634.0 360.4 L634.3 357.8 L634.6 357.8 L634.9 362.0 L635.2 358.7 L635.4 363.1 L635.7 363.4 L636.0 360.3 L636.3 362.7 L636.6 357.2 L636.9 360.0 L637.2 362.1 L637.5 352.9 L637.7 356.8 L638.0 349.9 L638.3 350.0 L638.5 357.7 L638.8 352.1 L639.1 355.5 L639.4 357.9 L639.7 353.6 L639.9 359.5 L640.2 360.0 L640.5 356.9 L640.8 362.3 L641.1 359.7 L641.4 361.2 L641.7 363.0 L642.0 361.7 L642.2 364.8 L642.5 364.6 L642.8 363.4 L643.0 366.3 L643.3 365.5 L643.6 366.8 L643.9 366.9 L644.2 363.7 L644.5 364.6 L644.8 362.3 L645.1 362.2 L645.3 365.1 L645.6 362.7 L645.9 364.6 L646.2 364.8 L646.5 361.8 L646.7 363.1 L647.0 361.2 L647.3 360.9 L647.6 365.7 L647.9 363.2 L648.2 364.6 L648.5 366.5 L648.8 362.4 L649.0 367.1 L649.3 366.8 L649.6 364.7 L649.8 366.1 L650.1 359.5 L650.4 362.3 L650.7 362.1 L651.0 357.7 L651.2 361.3 L651.5 356.7 L651.8 352.7 L652.1 356.8 L652.4 351.9 L652.7 351.0 L653.0 354.2 L653.2 353.2 L653.5 357.3 L653.8 357.8 L654.1 354.0 L654.3 356.0 L654.6 351.3 L654.9 351.0 L655.2 357.8 L655.5 354.1 L655.8 359.4 L656.1 360.0 L656.4 354.2 L656.7 358.9 L656.9 351.3 L657.2 353.3 L657.5 357.9 L657.8 346.4 L658.0 352.3 L658.3 348.8 L658.6 346.6 L658.9 350.7 L659.2 344.4 L659.5 344.2 L659.8 349.9 L660.0 346.3 L660.3 355.7 L660.6 352.0 L660.9 348.5 L661.2 357.6 L661.4 354.9 L661.7 357.8 L662.0 359.9 L662.2 356.1 L662.5 362.0 L662.8 362.3 L663.1 360.4 L663.4 364.8 L663.7 363.1 L664.0 364.6 L664.3 366.7 L664.5 364.2 L664.8 368.3 L665.1 368.0 L665.4 367.1 L665.7 368.7 L665.9 366.5 L666.2 366.8 L666.5 368.4 L666.8 358.4 L667.1 369.3 L667.4 369.0 L667.7 360.1 L668.0 352.0 L668.3 361.6 L668.6 353.5 L668.9 362.3 L669.2 363.3 L669.5 356.8 L669.8 365.1 L670.1 364.6 L670.4 364.3 L670.7 366.0 L670.9 360.8 L671.2 365.7 L671.5 365.2 L671.8 355.7 L672.0 364.4 L672.3 357.8 L672.6 350.7 L672.9 358.8 L673.2 340.6 L673.5 346.5 L673.8 347.2 L674.0 334.9 L674.3 343.6 L674.6 337.5 L674.9 333.7 L675.2 343.0 L675.4 331.6 L675.7 330.7 L676.0 336.2 L676.3 332.9 L676.6 341.9 L676.9 339.7 L677.2 337.5 L677.5 346.1 L677.7 341.5 L678.0 344.2 L678.3 348.6 L678.5 342.1 L678.8 351.6 L679.1 351.0 L679.4 340.3 L679.7 354.2 L679.9 344.7 L680.2 355.5 L680.5 345.6 L680.9 335.2 L681.2 326.0 L681.5 349.6 L681.8 321.3 L682.1 320.5 L682.4 330.3 L682.7 319.2 L682.9 324.9 L683.2 319.4 L683.5 321.5 L683.8 330.0 L684.0 323.7 L684.3 333.0 L684.6 332.3 L684.8 326.5 L685.1 331.2 L685.4 324.0 L685.7 323.6 L686.0 331.6 L686.3 329.5 L686.6 334.0 L687.0 328.6 L687.3 322.6 L687.6 324.8 L687.8 334.3 L688.1 324.7 L688.4 333.9 L688.7 343.1 L689.0 329.9 L689.2 349.4 L689.5 347.5 L689.8 337.6 L690.0 351.0 L690.3 347.0 L690.6 352.0 L690.9 351.2 L691.2 345.5 L691.5 350.6 L691.8 344.0 L692.1 345.0 L692.3 350.8 L692.6 347.1 L692.9 354.2 L693.2 353.7 L693.5 346.5 L693.7 351.7 L694.0 348.6 L694.3 350.0 L694.6 353.9 L694.9 350.6 L695.2 356.5 L695.5 358.5 L695.8 352.3 L696.0 360.3 L696.3 358.8 L696.6 352.6 L697.0 363.0 L697.3 363.2 L697.6 358.0 L697.9 354.1 L698.2 349.2 L698.5 342.0 L698.8 351.1 L699.1 337.0 L699.5 341.9 L699.8 347.5 L700.1 346.1 L700.5 342.3 L700.8 333.0 L701.0 324.8 L701.2 313.4 L701.5 300.5 L701.9 262.0 L702.3 242.8 L702.6 247.3 L702.9 252.0 L703.1 290.9 L703.4 258.0 L703.7 266.4 L704.0 275.0 L704.2 293.2 L704.5 311.0 L704.8 321.4 L705.0 277.6 L705.3 319.6 L705.6 333.2 L706.0 345.7 L706.4 339.8 L706.7 335.3 L707.0 341.8 L707.4 347.5 L707.6 355.6 L707.9 364.0 L708.2 362.1 L708.4 345.2 L708.7 354.2 L709.0 361.5 L709.3 351.7 L709.6 358.1 L709.9 352.0 L710.2 351.4 L710.5 356.3 L710.7 352.1 L711.0 358.8 L711.4 353.9 L711.7 348.6 L712.0 350.5 L712.3 355.4 L712.6 356.5 L712.9 355.8 L713.2 361.5 L713.4 356.8 L713.7 361.0 L714.0 363.0 L714.2 360.7 L714.5 368.0 L714.8 363.3 L715.1 363.6 L715.4 366.8 L715.6 364.8 L715.9 369.3 L716.2 370.0 L716.5 365.5 L716.8 369.5 L717.0 367.7 L717.3 367.8 L717.6 369.1 L717.8 365.5 L718.1 368.2 L718.4 365.5 L718.7 365.2 L719.0 367.7 L719.3 365.3 L719.6 369.0 L719.9 372.0 L720.2 364.8 L720.4 372.2 L720.7 363.3 L721.0 365.7 L721.3 375.5 L721.6 374.6 L721.9 363.4 L722.2 376.1 L722.4 372.1 L722.7 376.8 L723.0 367.2 L723.4 356.5 L723.7 353.8 L724.0 360.2 L724.2 351.8 L724.5 353.0 L724.8 354.8 L725.1 350.1 L725.4 362.7 L725.7 348.6 L726.0 354.6 L726.3 361.5 L726.6 367.8 L726.9 360.8 L727.2 372.6 L727.5 373.4 L727.8 370.1 L728.0 372.3 L728.3 368.7 L728.6 367.8 L728.9 371.8 L729.2 367.0 L729.4 370.3 L729.7 370.0 L730.0 366.2 L730.3 368.5 L730.6 365.0 L730.9 364.4 L731.2 368.4 L731.5 364.0 L731.7 368.1 L732.0 367.8 L732.3 364.9 L732.5 366.8 L732.8 364.0 L733.1 363.3 L733.4 368.1 L733.7 364.4 L734.0 368.9 L734.3 369.0 L734.6 366.2 L734.8 368.3 L735.1 356.8 L735.4 365.5 L735.7 367.1 L736.0 346.5 L736.2 360.3 L736.5 354.2 L736.8 347.7 L737.1 342.8 L737.4 336.0 L737.7 337.3 L738.0 348.9 L738.3 339.0 L738.6 345.2 L738.9 345.5 L739.2 338.4 L739.4 344.9 L739.7 341.8 L740.0 343.1 L740.2 346.4 L740.5 344.6 L740.8 348.6 L741.1 348.9 L741.3 343.7 L741.6 350.9 L741.9 347.5 L742.2 348.2 L742.5 352.9 L742.8 348.6 L743.1 352.0 L743.4 353.9 L743.7 350.1 L743.9 354.7 L744.2 354.2 L744.5 352.8 L744.8 357.7 L745.0 354.8 L745.3 356.5 L745.6 358.5 L745.9 356.2 L746.2 359.5 L746.5 358.8 L746.8 358.1 L747.0 362.6 L747.3 360.4 L747.6 363.3 L747.9 362.8 L748.2 353.9 L748.4 359.9 L748.7 356.5 L749.0 353.5 L749.3 359.7 L749.6 351.0 L749.9 352.0 L750.2 352.9 L750.5 347.2 L750.7 351.1 L751.0 348.6 L751.3 343.0 L751.6 347.7 L751.9 341.5 L752.2 343.3 L752.5 347.9 L752.8 348.6 L753.1 343.7 L753.3 349.3 L753.6 343.9 L753.9 346.3 L754.2 351.7 L754.5 347.2 L754.8 354.5 L755.1 353.0 L755.4 350.3 L755.7 357.2 L755.9 355.4 L756.2 357.6 L756.5 358.5 L756.8 356.6 L757.0 359.1 L757.3 358.8 L757.6 356.2 L757.8 357.7 L758.1 351.2 L758.4 354.2 L758.7 355.5 L759.0 345.9 L759.3 349.4 L759.6 346.0 L759.9 337.1 L760.2 346.5 L760.4 336.0 L760.7 335.5 L761.0 341.1 L761.3 331.1 L761.5 333.5 L761.8 330.1 L762.1 330.0 L762.4 333.7 L762.7 327.0 L762.9 335.4 L763.2 336.7 L763.5 332.7 L763.8 329.6 L764.0 324.2 L764.3 321.0 L764.6 330.4 L764.9 324.1 L765.2 334.7 L765.5 334.4 L765.8 326.0 L766.0 339.3 L766.3 332.1 L766.6 341.2 L766.9 340.2 L767.2 331.6 L767.4 339.3 L767.7 329.9 L768.0 329.8 L768.2 333.3 L768.5 329.6 L768.8 332.2 L769.1 331.1 L769.4 326.2 L769.7 328.3 L770.0 325.4 L770.3 314.9 L770.5 329.4 L770.8 314.1 L771.1 318.6 L771.4 323.0 L771.7 308.3 L772.0 307.3 L772.3 312.9 L772.6 288.5 L772.9 318.6 L773.2 302.0 L773.5 284.5 L773.8 267.8 L774.1 277.2 L774.4 284.9 L774.7 293.8 L775.0 289.8 L775.3 284.2 L775.6 280.2 L775.9 291.1 L776.2 279.5 L776.5 289.0 L776.8 287.0 L777.1 280.9 L777.3 283.4 L777.6 277.4 L777.9 276.8 L778.2 285.0 L778.5 277.3 L778.7 279.8 L779.0 279.0 L779.3 279.1 L779.5 286.8 L779.8 280.1 L780.1 284.7 L780.4 292.0 L780.7 282.1 L781.0 295.9 L781.3 293.8 L781.6 297.4 L781.8 302.8 L782.1 305.9 L782.4 310.7 L782.7 302.1 L783.0 291.8 L783.3 282.5 L783.6 276.3 L783.9 269.0 L784.2 263.2 L784.5 278.9 L784.8 258.8 L785.1 275.7 L785.4 267.6 L785.7 258.4 L786.0 250.5 L786.3 257.3 L786.6 262.6 L786.9 268.9 L787.2 278.3 L787.5 267.2 L787.8 280.2 L788.1 287.7 L788.4 277.0 L788.7 287.0 L789.0 292.1 L789.3 296.5 L789.6 301.7 L789.9 294.7 L790.2 286.8 L790.5 280.2 L790.8 282.9 L791.1 274.2 L791.4 273.4 L791.7 279.6 L792.1 279.3 L792.4 284.7 L792.7 284.1 L793.0 269.7 L793.3 277.9 L793.6 268.9 L793.9 257.7 L794.2 248.6 L794.5 270.0 L794.8 247.1 L795.1 247.4 L795.4 251.8 L795.7 245.4 L796.0 245.2 L796.3 255.6 L796.6 247.6 L796.9 257.6 L797.2 269.9 L797.5 249.8 L797.8 252.0 L798.1 261.7 L798.4 270.1 L798.7 280.2 L799.0 288.5 L799.4 296.0 L799.7 286.4 L800.0 278.1 L800.3 268.9 L800.6 270.4 L800.9 278.7 L801.2 275.7 L801.5 281.9 L801.8 289.7 L802.1 296.0 L802.4 290.1 L802.7 285.4 L803.0 279.0 L803.3 278.7 L803.6 287.0 L803.9 280.2 L804.2 285.3 L804.5 291.0 L804.8 296.0 L805.1 284.0 L805.4 298.7 L805.7 287.0 L806.0 298.1 L806.4 309.6 L806.7 311.6 L807.0 311.8 L807.3 299.8 L807.6 309.9 L807.9 300.5 L808.2 295.2 L808.5 308.1 L808.8 291.5 L809.1 270.3 L809.5 289.0 L809.8 270.2 L810.1 250.0 L810.5 227.0 L810.8 205.2 L811.1 213.3 L811.4 221.0 L811.6 215.1 L811.9 228.0 L812.3 238.0 L812.6 244.3 L813.0 249.7 L813.3 256.0 L813.6 262.2 L813.9 268.0 L814.2 278.4 L814.5 289.5 L814.9 279.5 L815.2 268.0 L815.5 265.8 L815.9 274.0 L816.2 270.0 L816.5 264.5 L816.9 275.6 L817.2 287.0 L817.5 279.0 L817.8 269.6 L818.1 262.0 L818.4 270.5 L818.7 278.1 L819.0 287.0 L819.3 292.9 L819.6 297.5 L819.9 303.9 L820.2 300.6 L820.5 289.7 L820.8 291.5 L821.1 298.3 L821.4 290.7 L821.7 300.5 L822.0 291.6 L822.3 281.8 L822.6 273.4 L822.9 283.7 L823.2 292.8 L823.5 302.8 L823.8 302.2 L824.1 280.1 L824.4 298.3 L824.7 300.8 L825.0 288.0 L825.3 302.8 L825.6 294.3 L825.9 285.2 L826.2 276.8 L826.5 285.3 L826.9 292.0 L827.2 300.5 L827.5 304.6 L827.8 295.8 L828.1 302.8 L828.4 307.3 L828.7 301.6 L829.0 311.8 L829.3 307.0 L829.6 301.0 L829.9 296.0 L830.2 286.6 L830.4 276.1 L830.7 267.0 L831.0 286.3 L831.2 268.9 L831.5 287.1 L831.8 279.4 L832.1 274.3 L832.3 277.9 L832.6 273.1 L832.9 272.6 L833.2 279.2 L833.5 274.7 L833.8 283.3 L834.1 283.9 L834.4 276.7 L834.7 292.8 L834.9 285.4 L835.2 290.7 L835.5 298.7 L835.8 287.7 L836.0 298.9 L836.3 300.9 L836.6 294.8 L836.9 290.6 L837.2 284.1 L837.5 279.4 L837.8 289.3 L838.0 284.1 L838.3 292.0 L838.6 293.0 L838.9 285.6 L839.2 289.7 L839.4 283.2 L839.7 281.6 L840.0 290.7 L840.3 287.0 L840.6 298.2 L840.9 295.2 L841.2 290.1 L841.5 302.1 L841.7 300.2 L842.0 304.3 L842.3 303.5 L842.5 295.8 L842.8 302.4 L843.1 295.2 L843.4 294.2 L843.7 300.7 L843.9 293.7 L844.2 294.0 L844.5 297.4 L844.8 295.8 L845.1 305.7 L845.4 298.6 L845.7 295.6 L846.0 314.1 L846.2 302.4 L846.5 308.8 L846.8 313.2 L847.0 316.2 L847.3 320.8 L847.6 324.6 L847.9 319.3 L848.2 315.8 L848.5 310.8 L848.8 306.5 L849.1 302.1 L849.3 297.2 L849.6 293.6 L849.9 288.4 L850.2 293.6 L850.5 299.2 L850.8 304.3 L851.1 294.9 L851.3 307.3 L851.6 303.6 L851.9 308.8 L852.2 318.3 L852.5 304.3 L852.8 316.0 L853.1 303.0 L853.4 310.4 L853.7 319.1 L854.0 326.9 L854.3 320.2 L854.6 315.4 L854.9 308.8 L855.2 310.5 L855.5 317.0 L855.7 309.3 L856.0 317.8 L856.3 316.0 L856.5 307.7 L856.8 309.7 L857.1 303.0 L857.4 304.8 L857.7 312.7 L858.0 307.2 L858.3 315.6 L858.6 320.0 L858.8 314.0 L859.1 320.8 L859.4 321.2 L859.8 314.4 L860.1 308.8 L860.4 302.2 L860.7 294.5 L861.0 288.4 L861.3 304.8 L861.5 292.3 L861.8 303.2 L862.1 302.0 L862.4 291.6 L862.7 299.3 L862.9 292.3 L863.2 290.7 L863.5 312.9 L863.8 292.2 L864.1 306.1 L864.4 299.7 L864.7 305.9 L865.0 312.9 L865.3 319.0 L865.6 301.9 L865.9 317.9 L866.2 311.0 L866.5 303.8 L866.8 298.7 L867.0 290.8 L867.3 285.0 L867.6 303.2 L867.8 281.4 L868.1 283.8 L868.4 281.6 L868.7 273.4 L869.0 283.4 L869.3 274.8 L869.6 274.9 L869.9 283.5 L870.2 271.5 L870.5 271.5 L870.9 283.7 L871.2 295.2 L871.5 299.3 L871.8 304.4 L872.1 308.8 L872.4 303.4 L872.7 319.4 L873.0 313.3 L873.3 317.7 L873.6 322.6 L873.9 326.9 L874.2 313.8 L874.5 324.9 L874.8 317.8 L875.1 312.2 L875.3 321.6 L875.6 308.4 L875.9 311.0 L876.2 315.7 L876.5 307.1 L876.7 309.4 L877.0 306.5 L877.3 307.8 L877.6 314.4 L877.9 315.6 L878.2 310.4 L878.5 320.6 L878.8 317.8 L879.1 318.1 L879.4 326.2 L879.7 326.9 L880.0 315.6 L880.3 323.9 L880.6 320.0 L880.9 305.5 L881.2 319.1 L881.5 308.8 L881.8 303.5 L882.1 300.0 L882.4 295.2 L882.7 296.6 L883.0 310.4 L883.3 302.0 L883.6 309.7 L884.0 317.8 L884.4 302.5 L884.7 286.2 L885.0 276.3 L885.4 268.0 L885.8 293.9 L886.1 270.3 L886.4 271.9 L886.7 287.3 L887.0 281.6 L887.3 286.4 L887.6 292.4 L887.9 297.5 L888.2 295.3 L888.5 305.3 L888.8 306.5 L889.1 303.6 L889.3 310.5 L889.6 304.7 L889.9 309.9 L890.2 311.6 L890.5 310.3 L890.7 314.7 L891.0 313.3 L891.3 311.2 L891.6 317.3 L891.9 314.5 L892.2 316.7 L892.5 318.4 L892.8 316.4 L893.0 320.9 L893.3 319.0 L893.6 318.3 L893.8 324.6 L894.1 320.1 L894.4 322.4 L894.7 325.8 L895.0 322.8 L895.3 327.2 L895.6 328.0 L895.9 325.2 L896.2 329.5 L896.4 323.0 L896.7 322.4 L897.0 329.9 L897.2 326.9 L897.5 333.0 L897.8 333.7 L898.1 324.9 L898.3 335.5 L898.6 327.8 L898.9 336.0 L899.2 329.0 L899.6 321.2 L899.9 323.3 L900.2 335.1 L900.5 331.4 L900.8 328.7 L901.1 337.9 L901.4 337.0 L901.7 335.9 L902.0 339.0 L902.3 339.3 L902.6 331.3 L902.9 337.1 L903.2 331.1 L903.5 329.2 L903.8 335.2 L904.1 340.5 L904.4 336.2 L904.7 345.4 L905.0 346.0 L905.3 339.6 L905.6 342.5 L905.9 338.2 L906.2 328.9 L906.5 341.6 L906.8 331.4 L907.1 328.5 L907.5 326.9 L907.9 336.3 L908.2 345.0 L908.5 335.8 L908.8 342.6 L909.1 336.0 L909.4 337.0 L909.7 343.7 L910.0 342.7" fill="none" stroke="#5dadd8" stroke-width="1.95" stroke-linejoin="bevel" stroke-linecap="butt"/>
<g font-size="11" fill="#6c6c6c" text-anchor="end">
<text x="57.5" y="420.2">0</text>
<text x="57.5" y="367.2">50</text>
<text x="57.5" y="314.2">100</text>
<text x="57.5" y="261.2">150</text>
<text x="57.5" y="208.2">200</text>
<text x="57.5" y="155.2">250</text>
<text x="57.5" y="102.2">300</text>
</g>
<text transform="translate(31.5 257.5) rotate(-90)" font-size="11" fill="#666666" text-anchor="middle">Index</text>
<g font-size="11" fill="#6c6c6c" text-anchor="middle">
<text x="119.9" y="438.8">2004</text>
<text x="191.9" y="438.8">2006</text>
<text x="263.9" y="438.8">2008</text>
<text x="335.9" y="438.8">2010</text>
<text x="407.9" y="438.8">2012</text>
<text x="479.9" y="438.8">2014</text>
<text x="551.9" y="438.8">2016</text>
<text x="623.9" y="438.8">2018</text>
<text x="695.9" y="438.8">2020</text>
<text x="767.9" y="438.8">2022</text>
<text x="839.9" y="438.8">2024</text>
<text x="906" y="438.8">2026</text>
</g>
<text x="469" y="34.6" font-size="14" fill="#333333" text-anchor="middle">MOVE Index [MOVE]</text>
<text x="469.2" y="53.9" font-size="11" fill="#666666" text-anchor="middle" textLength="144.7" lengthAdjust="spacingAndGlyphs">MacroMicro.me | MacroMicro</text>
<text x="71.4" y="80.9" font-size="12" fill="#6a6a6a" textLength="29" lengthAdjust="spacingAndGlyphs">Zoom</text>
<rect x="105.5" y="67" width="28" height="19" rx="2.5" fill="#7fdcc0"/>
<text x="119.6" y="80.9" font-size="12" fill="#222222" stroke="#222222" stroke-width="0.25" text-anchor="middle">All</text>
<text x="147.9" y="80.9" font-size="12" fill="#5c5c5c" text-anchor="middle">6m</text>
<text x="176.2" y="80.9" font-size="12" fill="#5c5c5c" text-anchor="middle">YTD</text>
<text x="205.2" y="80.9" font-size="12" fill="#5c5c5c" text-anchor="middle">1y</text>
<text x="233.5" y="80.9" font-size="12" fill="#5c5c5c" text-anchor="middle">2y</text>
<text x="261.8" y="80.9" font-size="12" fill="#5c5c5c" text-anchor="middle">3y</text>
<text x="290.1" y="80.9" font-size="12" fill="#5c5c5c" text-anchor="middle">5y</text>
<text x="317.7" y="80.9" font-size="12" fill="#5c5c5c" text-anchor="middle">10y</text>
<line x1="361.2" x2="375.6" y1="467.0" y2="467.0" stroke="#62b0d9" stroke-width="2.2"/>
<text x="380.6" y="471.4" font-size="13" fill="#333333" stroke="#333333" stroke-width="0.18" textLength="195.5" lengthAdjust="spacingAndGlyphs">ICE - BofAML MOVE Index [MOVE]</text>
</svg>
</body>
</html>
